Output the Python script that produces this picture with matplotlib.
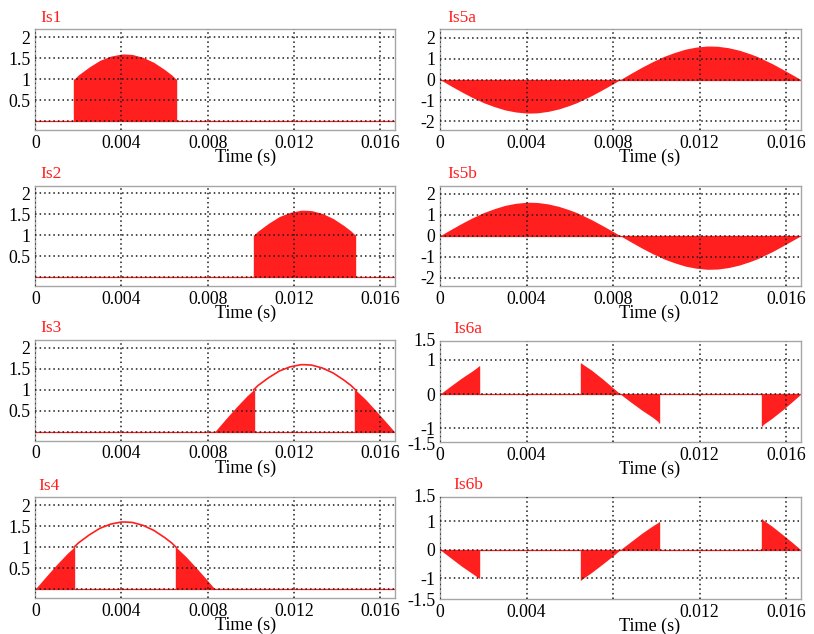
import matplotlib
matplotlib.use("Agg")
import matplotlib.pyplot as plt
import numpy as np

# ---------------------------------------------------------------------------
# Phase current over one 60 Hz cycle (A), sampled at the switching instants
# ---------------------------------------------------------------------------
t_cycle = [0.0, 0.0005, 0.0010, 0.0015, 0.0018, 0.0020, 0.0025, 0.0030, 0.0035,
           0.0040, 0.00417, 0.0045, 0.0050, 0.0055, 0.0060, 0.00633, 0.00653,
           0.0070, 0.0075, 0.0080, 0.00833,
           0.00883, 0.00933, 0.00983, 0.01013, 0.01033, 0.01083, 0.01133,
           0.01183, 0.01233, 0.0125, 0.01283, 0.01333, 0.01383, 0.01433,
           0.01466, 0.01486, 0.01533, 0.01583, 0.01633, 0.01667]
i_cycle = [0.0, 0.30, 0.59, 0.86, 1.00, 1.10, 1.29, 1.45, 1.55,
           1.60, 1.60, 1.59, 1.52, 1.40, 1.23, 1.10, 1.00,
           0.77, 0.49, 0.20, 0.0,
           -0.30, -0.59, -0.86, -1.00, -1.10, -1.29, -1.45,
           -1.55, -1.60, -1.60, -1.59, -1.52, -1.40, -1.23,
           -1.10, -1.00, -0.77, -0.49, -0.20, 0.0]

# Conduction windows (s) of each switch
is1_fill = [(0.0018, 0.00653)]
is2_fill = [(0.01013, 0.01486)]
is3_fill = [(0.00833, 0.01013), (0.01486, 0.01667)]
is3_trace = [(0.01013, 0.01486)]
is4_fill = [(0.0, 0.0018), (0.00653, 0.00833)]
is4_trace = [(0.0018, 0.00653)]
is5_fill = [(0.0, 0.01667)]

# Bidirectional switch currents Is6a / Is6b (A)
t_is6 = [0.0, 0.0005, 0.0010, 0.0015, 0.0018,
         0.00653, 0.0070, 0.0075, 0.0080, 0.00833, 0.00883, 0.00933, 0.00983, 0.01013,
         0.01486, 0.01533, 0.01583, 0.01633, 0.01667]
i_is6a = [0.0, 0.24, 0.47, 0.68, 0.82,
          0.90, 0.70, 0.45, 0.18, 0.0, -0.24, -0.47, -0.68, -0.83,
          -0.92, -0.71, -0.46, -0.19, 0.0]
i_is6b = [0.0, -0.29, -0.58, -0.84, -1.00,
          -1.05, -0.80, -0.51, -0.21, 0.0, 0.29, 0.58, 0.84, 0.98,
          1.08, 0.83, 0.53, 0.22, 0.0]
is6_fill = [(0.0, 0.0018), (0.00653, 0.01013), (0.01486, 0.01667)]

x_ticks = [0.0, 0.004, 0.008, 0.012, 0.016]
x_labels = ['0', '0.004', '0.008', '0.012', '0.016']
x_labels_is6 = ['0', '0.004', '', '0.012', '0.016']

# ---------------------------------------------------------------------------
RED = '#ff1f1f'
W, H = 814, 634
plt.rcParams['font.family'] = ['Liberation Serif', 'DejaVu Serif']
fig = plt.figure(figsize=(W / 100, H / 100), dpi=100)

col_left = [35.3, 440.0]
col_width = [359.4, 361.0]
row_top = [29.3, 185.5, 340.0, 497.3]
ax_h = 100.5
FS = 12.8


def make_axes(col, row, h=ax_h, top=None):
    top = row_top[row] if top is None else top
    rect = [col_left[col] / W, 1 - (top + h) / H, col_width[col] / W, h / H]
    ax = fig.add_axes(rect)
    for s in ax.spines.values():
        s.set_color('#a6a6a6')
        s.set_linewidth(1.0)
    ax.set_xlim(0, 0.01668)
    ax.set_xticks(x_ticks)
    ax.set_xticklabels(x_labels)
    ax.tick_params(length=0, labelsize=FS, pad=3.5)
    ax.grid(True, color='#1a1a1a', lw=1.1, ls=(0, (1, 2.0)))
    ax.set_axisbelow(False)
    ax.text(210 / col_width[col], -27.4 / h, 'Time (s)', transform=ax.transAxes,
            ha='center', va='center', fontsize=FS + 0.3)
    return ax, top


def title(col, top, name, dx):
    fig.text((col_left[col] + dx) / W, 1 - (top - 11.5) / H, name,
             color=RED, fontsize=FS - 0.3, ha='left', va='center')


def window(t, y, t0, t1):
    t = np.asarray(t)
    y = np.asarray(y)
    m = (t >= t0 - 1e-9) & (t <= t1 + 1e-9)
    return t[m], y[m]


def draw_fill(ax, t, y, windows):
    for t0, t1 in windows:
        tw, yw = window(t, y, t0, t1)
        ax.fill_between(tw, 0, yw, color=RED, lw=0, zorder=1)
        ax.vlines([tw[0], tw[-1]], 0, [yw[0], yw[-1]], color=RED, lw=1.0, zorder=1)


def draw_trace(ax, t, y, windows):
    for t0, t1 in windows:
        tw, yw = window(t, y, t0, t1)
        ax.plot(tw, yw, color=RED, lw=1.2, zorder=3)


def unipolar_axes(ax):
    ax.set_ylim(-0.21, 2.19)
    ax.set_yticks([0, 0.5, 1, 1.5, 2])
    ax.set_yticklabels(['', '0.5', '1', '1.5', '2'])
    ax.axhline(0, color=RED, lw=0.9, zorder=2)


neg_cycle = [-v for v in i_cycle]

# --- left column: unidirectional switches ---
ax, top = make_axes(0, 0)
unipolar_axes(ax)
draw_fill(ax, t_cycle, i_cycle, is1_fill)
title(0, top, 'Is1', 4.7)

ax, top = make_axes(0, 1)
unipolar_axes(ax)
draw_fill(ax, t_cycle, neg_cycle, is2_fill)
title(0, top, 'Is2', 4.7)

ax, top = make_axes(0, 2)
unipolar_axes(ax)
draw_fill(ax, t_cycle, neg_cycle, is3_fill)
draw_trace(ax, t_cycle, neg_cycle, is3_trace)
title(0, top, 'Is3', 4.7)

ax, top = make_axes(0, 3)
unipolar_axes(ax)
draw_fill(ax, t_cycle, i_cycle, is4_fill)
draw_trace(ax, t_cycle, i_cycle, is4_trace)
title(0, top, 'Is4', 3.0)

# --- right column: bidirectional switches ---
for row, (name, y) in enumerate([('Is5a', neg_cycle), ('Is5b', i_cycle)]):
    ax, top = make_axes(1, row)
    ax.set_ylim(-2.4, 2.4)
    ax.set_yticks([-2, -1, 0, 1, 2])
    ax.set_yticklabels(['-2', '-1', '0', '1', '2'])
    ax.axhline(0, color=RED, lw=0.9, zorder=2)
    draw_fill(ax, t_cycle, y, is5_fill)
    title(1, top, name, 7.0)

for name, y, lim, h, top_px, low_off in [('Is6a', i_is6a, (-1.39, 1.56), 101.0, 340.7, -4.3),
                                         ('Is6b', i_is6b, (-1.73, 1.86), 102.3, 496.7, -2.7)]:
    ax, top = make_axes(1, 0, h=h, top=top_px)
    ax.set_ylim(*lim)
    ax.set_yticks([-1, 0, 1])
    ax.set_yticklabels(['-1', '0', '1'])
    ax.set_xticklabels(x_labels_is6)
    ax.axhline(0, color=RED, lw=0.9, zorder=2)
    draw_fill(ax, t_is6, y, is6_fill)
    ax.annotate('1.5', xy=(0, 1), xycoords='axes fraction', xytext=(-4, -1),
                textcoords='offset pixels', ha='right', va='center', fontsize=FS)
    ax.annotate('-1.5', xy=(0, 0), xycoords='axes fraction', xytext=(-4, low_off),
                textcoords='offset pixels', ha='right', va='center', fontsize=FS)
    title(1, top, name, 13.0)

fig.savefig('out.png', dpi=100)
